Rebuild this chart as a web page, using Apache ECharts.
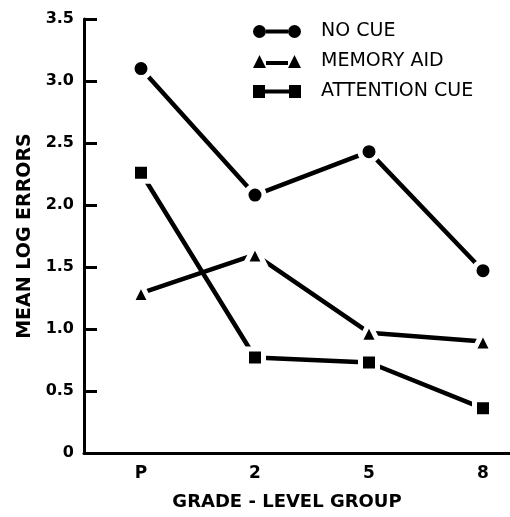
<!DOCTYPE html>
<html>
<head>
<meta charset="utf-8">
<script src="https://cdn.jsdelivr.net/npm/echarts@6/dist/echarts.min.js"></script>
<style>html,body{margin:0;padding:0;background:#fff;}#chart{width:510px;height:517px;}</style>
</head>
<body>
<div id="chart"></div>
<script>
var categories = ['P', '2', '5', '8'];
var noCue = [3.10, 2.08, 2.43, 1.47];
var memoryAid = [1.29, 1.60, 0.97, 0.90];
var attentionCue = [2.26, 0.77, 0.73, 0.36];
var yTickLabels = ['0', '0.5', '1.0', '1.5', '2.0', '2.5', '3.0', '3.5'];
var seriesNames = ['NO CUE', 'MEMORY AID', 'ATTENTION CUE'];

var FONT = '"DejaVu Sans", sans-serif';
var iconCircle = 'path://M0,6.5A6.5,6.5,0,1,0,13,6.5A6.5,6.5,0,1,0,0,6.5ZM13,4.5H35V8.5H13ZM35,6.5A6.5,6.5,0,1,0,48,6.5A6.5,6.5,0,1,0,35,6.5Z';
var iconTri = 'path://M0,13L6.5,0L13,13ZM13,6H35V10H13ZM35,13L41.5,0L48,13Z';
var iconSq = 'path://M0,0H12V13H0ZM12,4.5H36V8.5H12ZM36,0H48V13H36Z';

function mkSeries(name, data, symbol, size) {
  return {
    name: name, type: 'line', data: data,
    symbol: symbol, symbolSize: size,
    lineStyle: {color: '#000', width: 4.5},
    itemStyle: {color: '#000', borderColor: '#fff', borderWidth: 5},
    emphasis: {disabled: true},
    animation: false
  };
}

var chart = echarts.init(document.getElementById('chart'));
chart.setOption({
  backgroundColor: '#fff',
  animation: false,
  grid: {left: 84, top: 19, bottom: 64, width: 456, containLabel: false, outerBoundsMode: 'none'},
  legend: {
    orient: 'vertical', left: 248, top: 17,
    itemWidth: 48, itemHeight: 13, itemGap: 11,
    itemStyle: {borderWidth: 0, color: '#000'},
    textStyle: {fontFamily: FONT, fontSize: 19, color: '#000', padding: [0, 0, 0, 15]},
    data: [
      {name: seriesNames[0], icon: iconCircle},
      {name: seriesNames[1], icon: iconTri},
      {name: seriesNames[2], icon: iconSq}
    ],
    selectedMode: false
  },
  xAxis: {
    type: 'category', data: categories, boundaryGap: true,
    name: 'GRADE - LEVEL GROUP', nameLocation: 'middle', nameGap: 40,
    nameTextStyle: {fontFamily: FONT, fontWeight: 'bold', fontSize: 18, color: '#000', padding: [0, 50, 0, 0]},
    axisLine: {lineStyle: {color: '#000', width: 3}},
    axisTick: {inside: true, alignWithLabel: true, length: 11, lineStyle: {color: '#000', width: 3}},
    axisLabel: {fontFamily: FONT, fontWeight: 'bold', fontSize: 17, color: '#000', margin: 12},
    splitLine: {show: false}
  },
  yAxis: {
    type: 'value', min: 0, max: 3.5, interval: 0.5,
    name: 'MEAN LOG ERRORS', nameLocation: 'middle', nameGap: 48,
    nameTextStyle: {fontFamily: FONT, fontWeight: 'bold', fontSize: 19, color: '#000'},
    axisLine: {show: true, lineStyle: {color: '#000', width: 3}},
    axisTick: {show: true, inside: true, length: 13, lineStyle: {color: '#000', width: 3}},
    axisLabel: {fontFamily: FONT, fontWeight: 'bold', fontSize: 16, color: '#000', margin: 10,
      formatter: function (v) { return yTickLabels[Math.round(v / 0.5)]; }},
    splitLine: {show: false}
  },
  series: [
    mkSeries(seriesNames[0], noCue, 'circle', 18),
    mkSeries(seriesNames[1], memoryAid, 'triangle', 19),
    mkSeries(seriesNames[2], attentionCue, 'rect', 17)
  ]
});
</script>
</body>
</html>
